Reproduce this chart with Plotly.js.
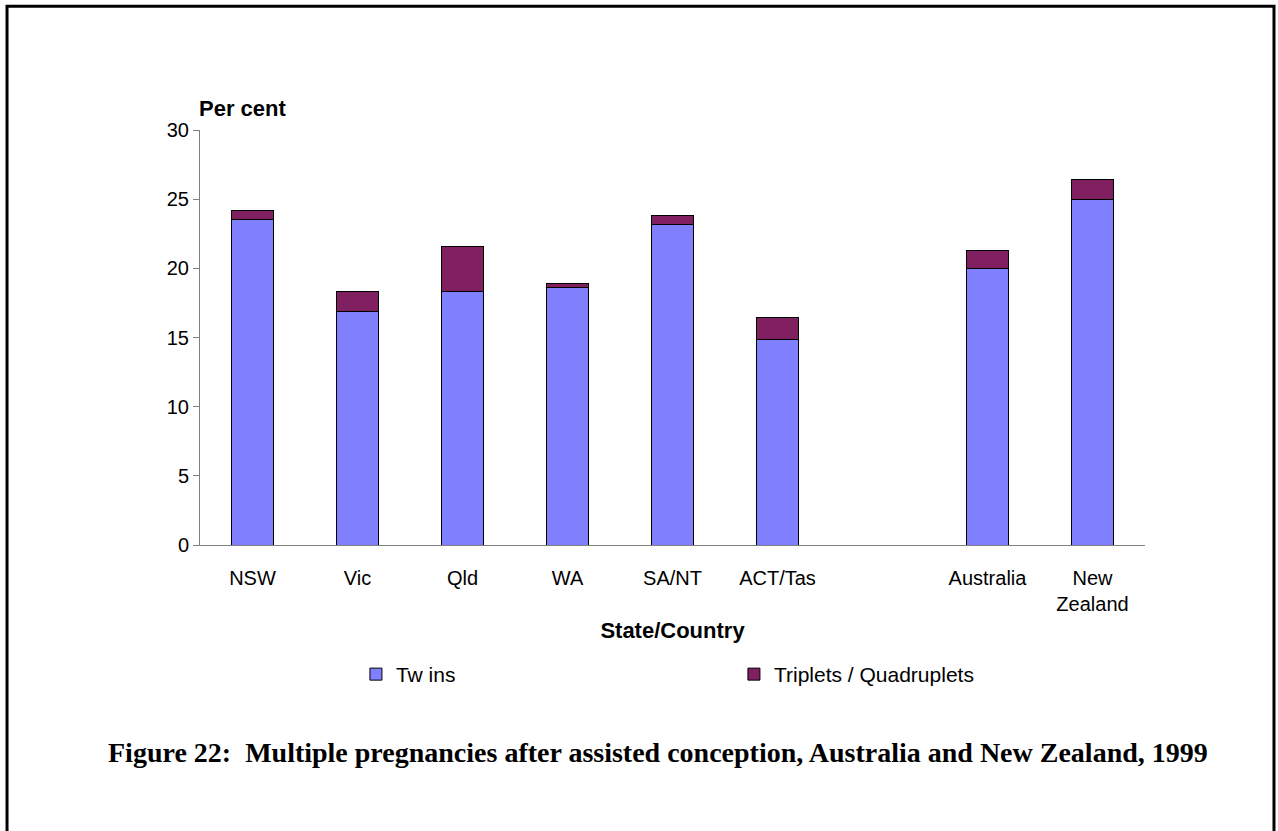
<!DOCTYPE html>
<html>
<head>
<meta charset="utf-8">
<script src="https://cdn.plot.ly/plotly-3.0.1.min.js"></script>
<style>
  html, body { margin: 0; padding: 0; background: #ffffff; }
  #chart { width: 1278px; height: 831px; }
</style>
</head>
<body>
<div id="chart"></div>
<script>
// Data
var categories = ['NSW', 'Vic', 'Qld', 'WA', 'SA/NT', 'ACT/Tas', ' ', 'Australia', 'New<br>Zealand'];
var twins = [23.5, 16.9, 18.3, 18.6, 23.2, 14.85, null, 20.0, 25.0];
var tripletsQuadruplets = [0.7, 1.4, 3.3, 0.3, 0.6, 1.6, null, 1.3, 1.45];
var yTicks = [0, 5, 10, 15, 20, 25, 30];
var seriesNames = ['Tw ins', 'Triplets / Quadruplets'];
var figureTitle = 'Figure 22:  Multiple pregnancies after assisted conception, Australia and New Zealand, 1999';

var axisFont = {family: 'Liberation Sans, Arial, sans-serif', size: 20, color: '#000000'};

var traces = [
  {
    type: 'bar', name: seriesNames[0], x: categories, y: twins,
    width: 0.4,
    marker: {color: '#8080FF', line: {color: '#000000', width: 1}},
    hoverinfo: 'x+y+name'
  },
  {
    type: 'bar', name: seriesNames[1], x: categories, y: tripletsQuadruplets,
    width: 0.4,
    marker: {color: '#802060', line: {color: '#000000', width: 1}},
    hoverinfo: 'x+y+name'
  }
];

var layout = {
  width: 1278, height: 831,
  paper_bgcolor: '#ffffff', plot_bgcolor: '#ffffff',
  barmode: 'stack',
  showlegend: true,
  margin: {l: 200, r: 133, t: 130, b: 285.5, autoexpand: false},
  font: axisFont,
  xaxis: {
    type: 'category',
    categoryorder: 'array', categoryarray: categories,
    range: [-0.5, 8.5],
    showline: true, linecolor: '#808080', linewidth: 1,
    ticks: 'outside', ticklen: 15, tickcolor: 'rgba(0,0,0,0)',
    tickfont: axisFont,
    showgrid: false, zeroline: false, fixedrange: true,
    title: {text: '<b>State/Country</b>', font: {family: 'Liberation Sans, Arial, sans-serif', size: 22, color: '#000'}, standoff: 8}
  },
  yaxis: {
    range: [0, 30], tickvals: yTicks, ticktext: yTicks.map(String),
    showline: true, linecolor: '#808080', linewidth: 1,
    ticks: 'outside', ticklen: 6, tickcolor: '#808080',
    tickfont: axisFont,
    showgrid: false, zeroline: false, fixedrange: true
  },
  legend: {
    orientation: 'h',
    x: 0.165, xanchor: 'left',
    y: -0.312, yanchor: 'middle',
    entrywidth: 333, entrywidthmode: 'pixels',
    font: {family: 'Liberation Sans, Arial, sans-serif', size: 21, color: '#000'},
    bgcolor: 'rgba(0,0,0,0)',
    traceorder: 'normal'
  },
  annotations: [
    {
      text: '<b>Per cent</b>', xref: 'paper', yref: 'paper',
      x: -0.003, y: 1.053, xanchor: 'left', yanchor: 'middle',
      showarrow: false,
      font: {family: 'Liberation Sans, Arial, sans-serif', size: 22, color: '#000'}
    },
    {
      text: '<b>' + figureTitle + '</b>', xref: 'paper', yref: 'paper',
      x: 0.485, y: -0.5, xanchor: 'center', yanchor: 'middle',
      showarrow: false,
      font: {family: 'Liberation Serif, Times New Roman, serif', size: 28, color: '#000'}
    }
  ],
  shapes: [
    {
      type: 'rect', xref: 'paper', yref: 'paper',
      x0: -0.2042, x1: 1.1365, y0: -0.72, y1: 1.2984,
      line: {color: '#000000', width: 3}, fillcolor: 'rgba(0,0,0,0)', layer: 'below'
    }
  ]
};

Plotly.newPlot('chart', traces, layout, {displayModeBar: false, staticPlot: false});
</script>
</body>
</html>
